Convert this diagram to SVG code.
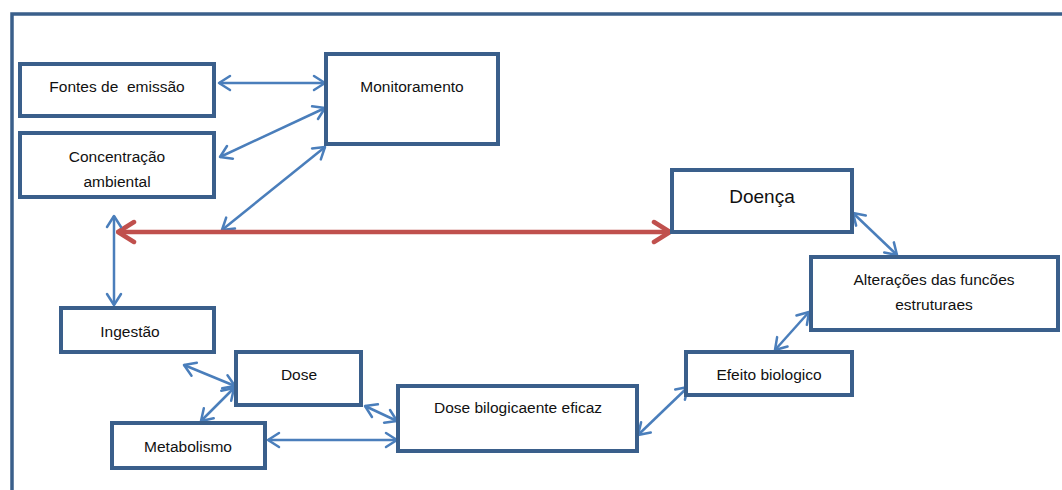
<svg xmlns="http://www.w3.org/2000/svg" width="1062" height="490" viewBox="0 0 1062 490">
<style>
.box{fill:#fff;stroke:#3a5f8b;stroke-width:4}
.t{font-family:"Liberation Sans",Arial,sans-serif;font-size:15.5px;fill:#111;text-anchor:middle;white-space:pre}
.c{stroke:#4a7ebb;stroke-width:2.5;fill:none;marker-start:url(#ab);marker-end:url(#ab)}
</style>
<defs>
<marker id="ab" markerUnits="userSpaceOnUse" viewBox="-14 -10 16 20" refX="0" refY="0" markerWidth="16" markerHeight="20" orient="auto-start-reverse">
<path d="M-11,-7 L0,0 L-11,7" fill="none" stroke="#4a7ebb" stroke-width="2.5" stroke-linecap="round" stroke-linejoin="round"/>
</marker>
<marker id="ar" markerUnits="userSpaceOnUse" viewBox="-20 -14 22 28" refX="0" refY="0" markerWidth="22" markerHeight="28" orient="auto-start-reverse">
<path d="M-16,-10 L0,0 L-16,10" fill="none" stroke="#c0504d" stroke-width="4.5" stroke-linecap="round" stroke-linejoin="round"/>
</marker>
</defs>
<rect width="1062" height="490" fill="#fff"/>
<path d="M12,492 L12,14 L1064,14" fill="none" stroke="#3a5f8b" stroke-width="3.5"/>
<g id="connectors">
<line class="c" x1="219" y1="83" x2="325" y2="83"/>
<line class="c" x1="220" y1="157" x2="325" y2="108"/>
<line class="c" x1="222" y1="230" x2="325" y2="147"/>
<line x1="118" y1="232" x2="670" y2="232" stroke="#c0504d" stroke-width="4.5" marker-start="url(#ar)" marker-end="url(#ar)"/>
<line class="c" x1="114" y1="216" x2="114" y2="305"/>
<line class="c" x1="184" y1="365" x2="235" y2="386"/>
<line class="c" x1="234" y1="388" x2="201" y2="421"/>
<line class="c" x1="365" y1="406" x2="397" y2="421"/>
<line class="c" x1="268" y1="440" x2="397" y2="440"/>
<line class="c" x1="638" y1="435" x2="688" y2="387"/>
<line class="c" x1="775" y1="350" x2="809" y2="312"/>
<line class="c" x1="853" y1="213" x2="897" y2="255"/>
</g>
<g id="fontes"><rect class="box" x="20" y="64" width="194" height="52"/><text class="t" x="117" y="92">Fontes de  emissão</text></g>
<g id="monitoramento"><rect class="box" x="326" y="54" width="172" height="90"/><text class="t" x="412" y="92">Monitoramento</text></g>
<g id="concentracao"><rect class="box" x="20" y="133" width="194" height="64"/><text class="t" x="117" y="162">Concentração</text><text class="t" x="117" y="187">ambiental</text></g>
<g id="doenca"><rect class="box" x="672" y="170" width="180" height="62"/><text class="t" x="762" y="203" style="font-size:19px">Doença</text></g>
<g id="alteracoes"><rect class="box" x="811" y="257" width="247" height="73"/><text class="t" x="934" y="285">Alterações das funcões</text><text class="t" x="934" y="310">estruturaes</text></g>
<g id="efeito"><rect class="box" x="686" y="352" width="166" height="43"/><text class="t" x="769" y="380">Efeito biologico</text></g>
<g id="dosebio"><rect class="box" x="398" y="386" width="239" height="65"/><text class="t" x="518" y="413">Dose bilogicaente eficaz</text></g>
<g id="ingestao"><rect class="box" x="61" y="308" width="153" height="44"/><text class="t" x="130" y="337">Ingestão</text></g>
<g id="dose"><rect class="box" x="236" y="352" width="125" height="53"/><text class="t" x="299" y="380">Dose</text></g>
<g id="metabolismo"><rect class="box" x="112" y="423" width="153" height="45"/><text class="t" x="188" y="452">Metabolismo</text></g>
</svg>
